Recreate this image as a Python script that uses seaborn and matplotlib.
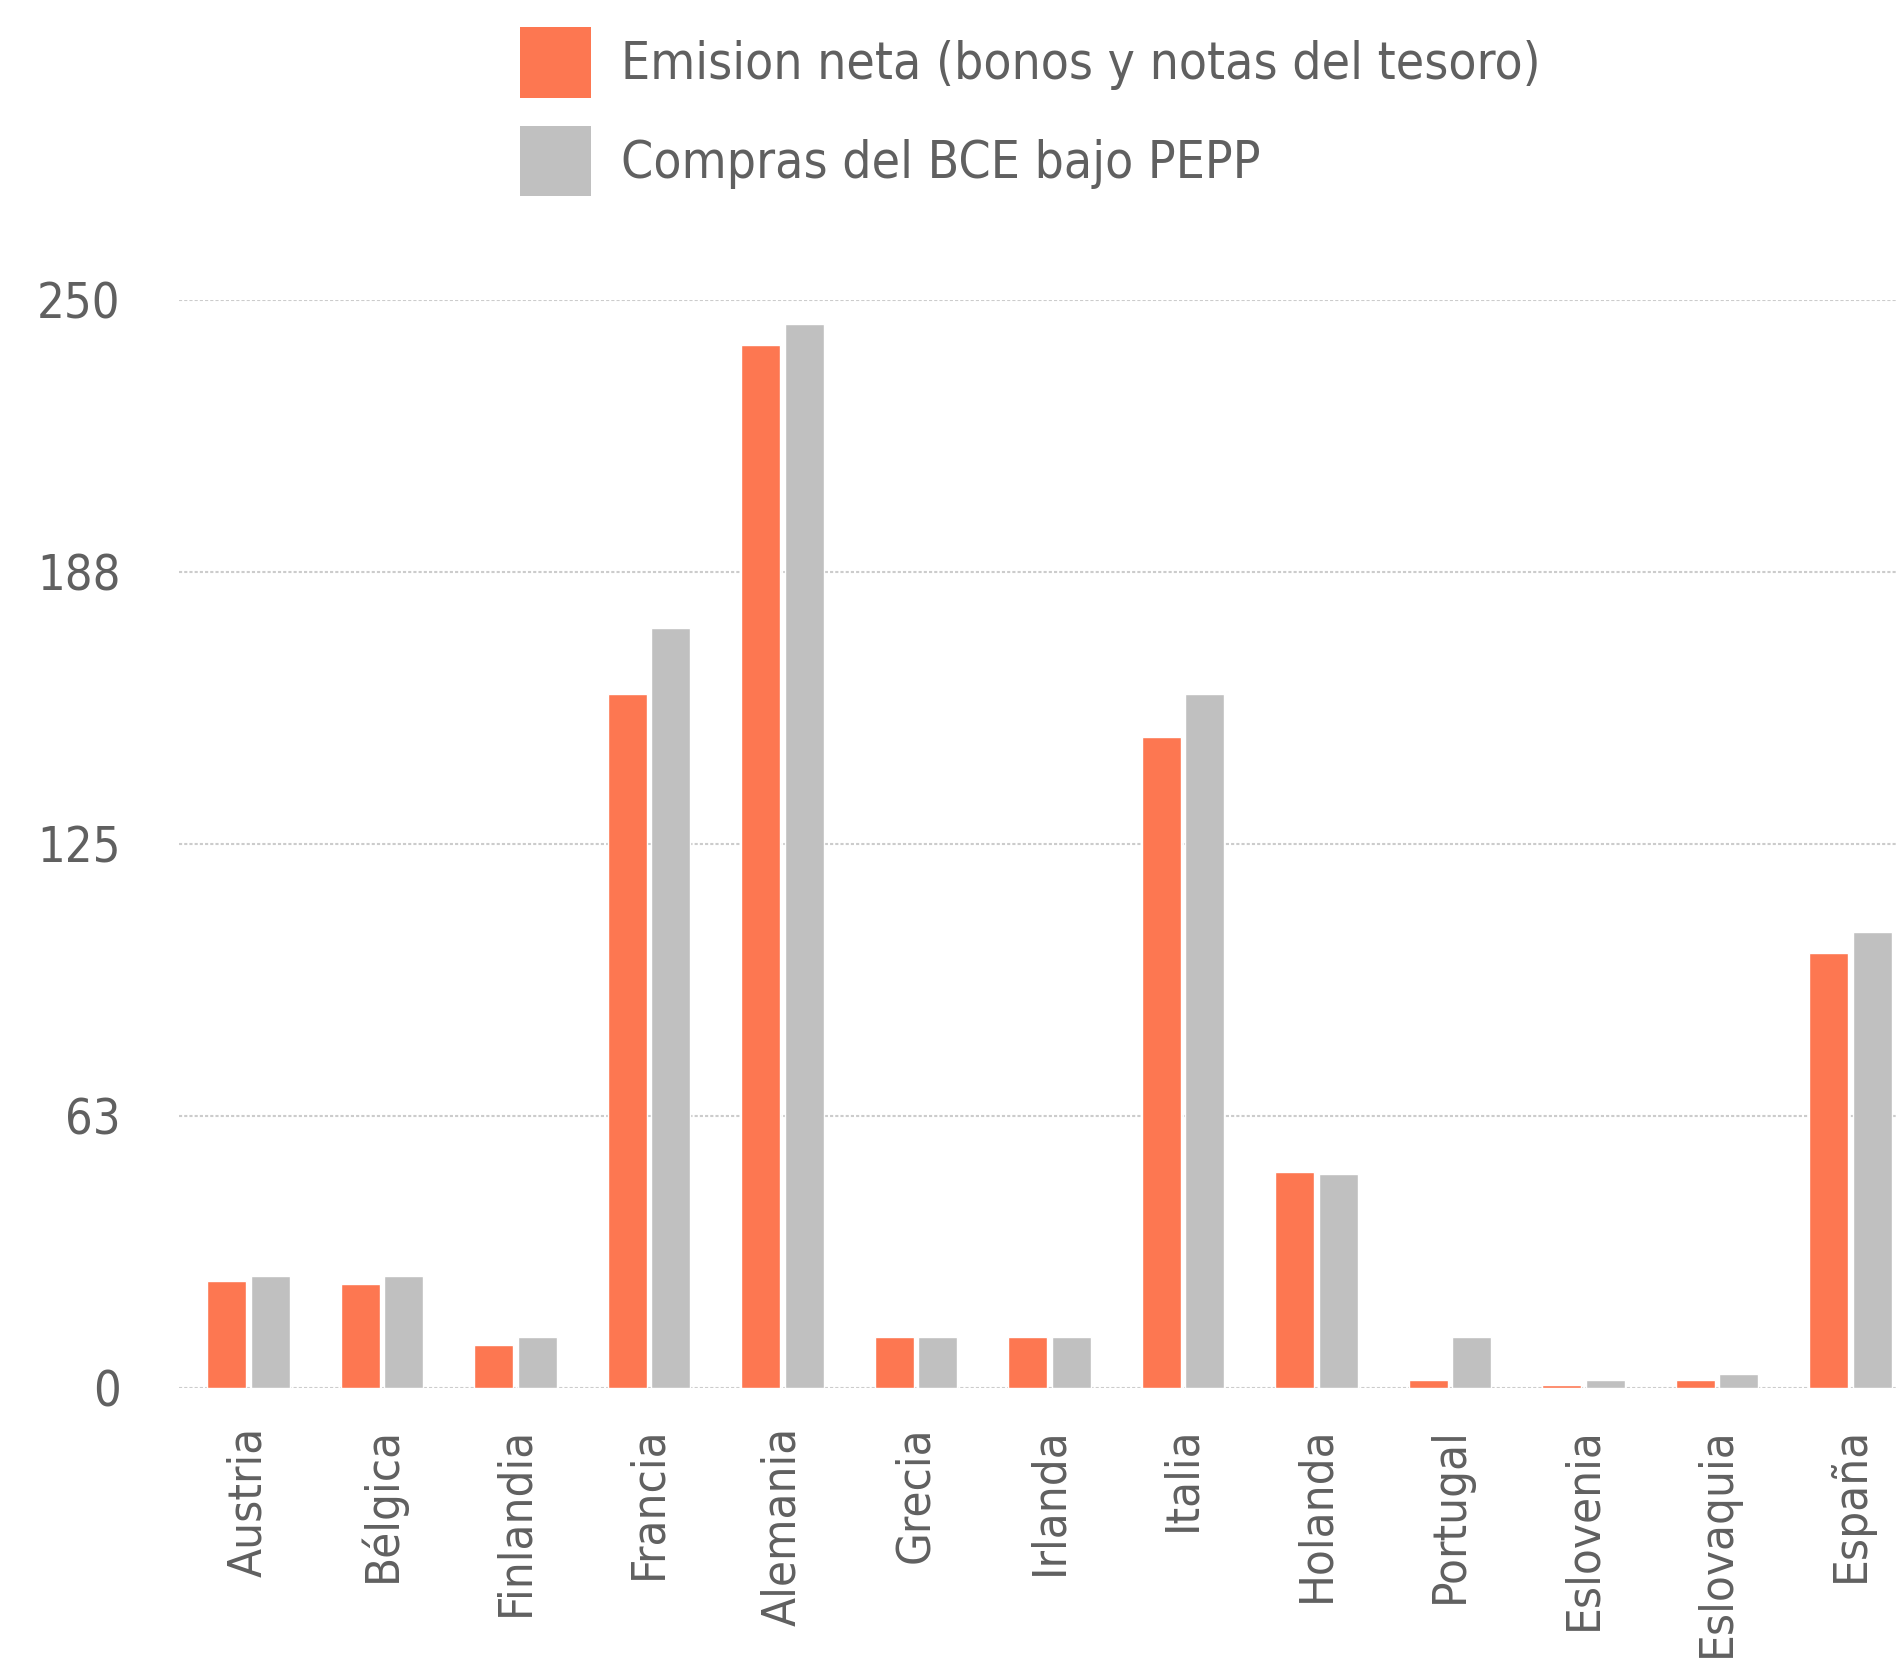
import matplotlib
matplotlib.use("Agg")
import matplotlib.pyplot as plt
import pandas as pd
import seaborn as sns
from matplotlib.patches import Patch

paises = ["Austria", "Bélgica", "Finlandia", "Francia", "Alemania", "Grecia", "Irlanda",
          "Italia", "Holanda", "Portugal", "Eslovenia", "Eslovaquia", "España"]
emision = [24.6, 23.9, 9.9, 159.5, 239.7, 11.7, 11.7, 149.6, 49.6, 1.8, 0.7, 1.8, 100.0]
compras = [25.7, 25.7, 11.7, 174.6, 244.5, 11.7, 11.7, 159.5, 49.2, 11.7, 1.8, 3.2, 104.8]
series = ["Emision neta (bonos y notas del tesoro)", "Compras del BCE bajo PEPP"]
yticks = [0, 62.5, 125, 187.5, 250]
ytick_labels = ["0", "63", "125", "188", "250"]

COLORES = ["#FD7751", "#C0C0C0"]
TEXTO = "#606060"

sns.set_theme(style="white")
plt.rcParams["font.family"] = ["DejaVu Sans"]
plt.rcParams["font.stretch"] = "condensed"

df = pd.DataFrame({
    "pais": paises * 2,
    "valor": emision + compras,
    "serie": [series[0]] * len(paises) + [series[1]] * len(paises),
})

fig = plt.figure(figsize=(18.96, 16.61), dpi=100)
ax = fig.add_axes([0.0944, 0.1644, 0.9056, 0.655])

sns.barplot(data=df, x="pais", y="valor", hue="serie", palette=COLORES,
            width=0.65, gap=0.1, saturation=1, ax=ax, legend=False, zorder=2)

ax.set_ylim(0, 250)
ax.set_xlim(-0.52, len(paises) - 0.66)
ax.set_yticks(yticks)
ax.set_yticklabels(ytick_labels)
ax.yaxis.grid(True, color="#cccccc", linestyle=(0, (1.5, 1)), linewidth=1.5, zorder=0)
ax.set_axisbelow(True)
for s in ax.spines.values():
    s.set_visible(False)
ax.tick_params(axis="both", length=0, colors=TEXTO)
ax.tick_params(axis="y", labelsize=35, pad=42)
ax.tick_params(axis="x", labelsize=34, pad=28)
plt.setp(ax.get_xticklabels(), rotation=90)
ax.set_xlabel("")
ax.set_ylabel("")

# legend arriba, cuadrados como marcadores
handles = [Patch(facecolor=c, edgecolor="none") for c in COLORES]
fig.legend(handles, series, loc="upper left", bbox_to_anchor=(0.2605, 0.999),
           frameon=False, fontsize=37, labelcolor=TEXTO, handlelength=1.38,
           handleheight=1.73, handletextpad=0.6, labelspacing=0.55, borderpad=0)

fig.savefig("out.png", dpi=100)
